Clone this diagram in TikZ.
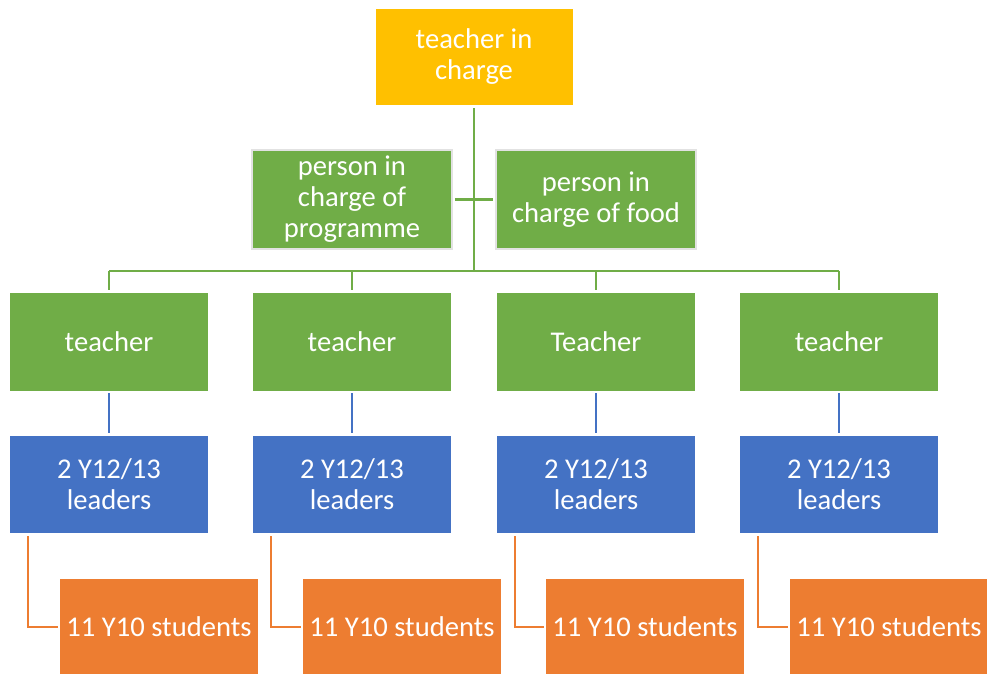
\documentclass[tikz,border=0pt]{standalone}
\usepackage{fontspec}
\setmainfont{Carlito}
\definecolor{cyellow}{HTML}{FFC000}
\definecolor{cgreen}{HTML}{70AD47}
\definecolor{cblue}{HTML}{4472C4}
\definecolor{corange}{HTML}{ED7D31}
\definecolor{cedge}{HTML}{E2E2E2}
\tikzset{
  box/.style={inner sep=0pt, minimum width=198pt, align=center, text=white,
    font=\fontsize{28.6pt}{31pt}\selectfont},
  topbox/.style={box, fill=cyellow, minimum height=97pt, draw=white, line width=0.6pt},
  asbox/.style={box, fill=cgreen, minimum width=200pt, minimum height=99pt, draw=cedge, line width=1.5pt},
  tbox/.style={box, fill=cgreen, minimum height=98pt},
  lbox/.style={box, fill=cblue, minimum height=97pt},
  sbox/.style={box, fill=corange, minimum height=95pt},
  gline/.style={draw=cgreen, line width=2.6pt},
  bline/.style={draw=cblue, line width=2pt},
  oline/.style={draw=corange, line width=2pt},
}
\begin{document}
\begin{tikzpicture}[x=1pt,y=-1pt]
\useasboundingbox (0,0) rectangle (987,674);
\node[topbox] (top) at (474,56.5) {teacher in\\charge};
\node[asbox] (asl) at (352,199.5) {person in\\charge of\\programme};
\node[asbox] (asr) at (596,199.5) {person in\\charge of food};
\coordinate (bus) at (474,271);
\foreach \i/\x/\t/\ox in {1/109/teacher/159,2/352/teacher/402,3/596/Teacher/645,4/839/teacher/889}{
  \node[tbox] (t\i) at (\x,342) {\t};
  \node[lbox] (l\i) at (\x,484.5) {2 Y12/13\\leaders};
  \node[sbox] (s\i) at (\ox,626.5) {11 Y10 students};
  \coordinate (bs\i) at (\x,271);
  \draw[bline] ([yshift=-2pt]t\i.south) -- ([yshift=3pt]l\i.north);
  \draw[oline] ([xshift=18pt,yshift=-3pt]l\i.south west) |- ([xshift=-2pt]s\i.west);
}
\draw[gline] ([yshift=-3pt]top.south) -- (bus);
\draw[gline] ([xshift=2pt]asl.east) -- ([xshift=-2pt]asr.west);
\draw[gline] (bs1) -- (bs4);
\foreach \i in {1,...,4}{
  \draw[gline] (bs\i) -- ([yshift=3pt]t\i.north);
}
\end{tikzpicture}
\end{document}
